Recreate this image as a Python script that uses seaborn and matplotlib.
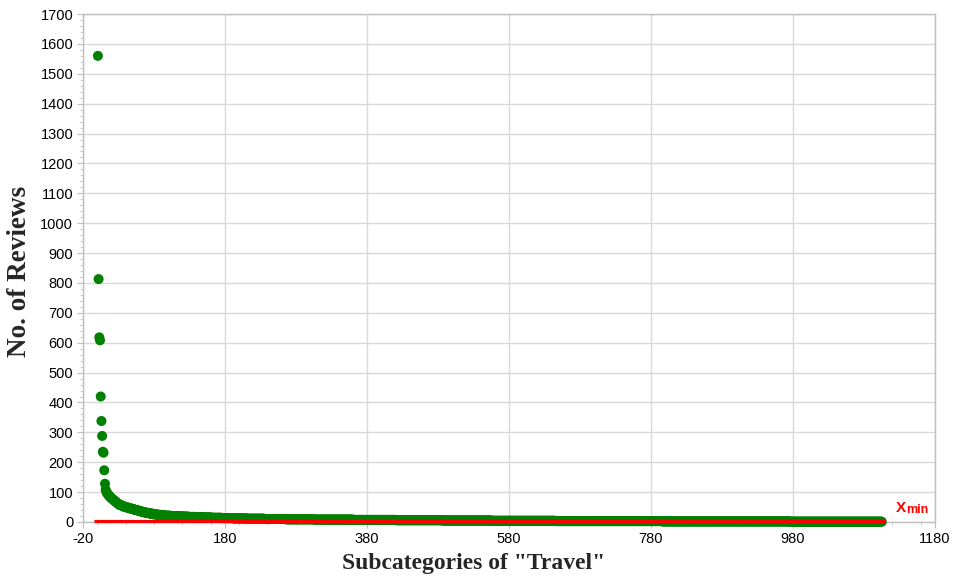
import numpy as np
import pandas as pd
import matplotlib
matplotlib.use("Agg")
import matplotlib.pyplot as plt
import seaborn as sns
from matplotlib.ticker import MultipleLocator

# Head of the ranked list (individual values)
head_values = [1560, 813, 618, 608, 420, 338, 288, 235, 232, 173, 128, 108,
               100, 97, 93, 90, 87, 85, 82, 80, 78, 76, 74, 72, 70, 68, 66, 64, 62, 60]
# Tail: review count levels and how many subcategories share each level
tail_levels = [58, 56, 54, 52, 50, 48, 46, 44, 42, 40, 38, 36, 34, 32, 30, 28, 26, 24, 22,
               21, 20, 19, 18, 17, 16, 15, 14, 13, 12, 11, 10, 9, 8, 7, 6, 5, 4, 3, 2, 1]
tail_counts = [2, 2, 2, 2, 3, 3, 3, 3, 3, 3, 3, 3, 3, 4, 4, 5, 5, 6, 7,
               7, 8, 8, 9, 10, 11, 12, 14, 15, 20, 25, 30, 40, 55, 60, 65, 70, 90, 150, 180, 130]

xmin_value = 3
xmin_line_x = [-5, 1110]

x_ticks = list(range(-20, 1181, 200))
y_ticks = list(range(0, 1701, 100))

reviews = np.concatenate([head_values, np.repeat(tail_levels, tail_counts)])
rank = np.arange(1, len(reviews) + 1)
df = pd.DataFrame({"rank": rank, "reviews": reviews})

sns.set_style("white")
plt.rcParams['font.family'] = ['Liberation Sans', 'DejaVu Sans']
plt.rcParams['axes.unicode_minus'] = False

fig = plt.figure(figsize=(9.58, 5.85), dpi=100)
ax = fig.add_axes([0.0866, 0.1077, 0.8894, 0.8683])

sns.scatterplot(data=df, x="rank", y="reviews", ax=ax, color="#008000",
                s=52, edgecolor="none", linewidth=0, zorder=3, clip_on=False)
ax.plot(xmin_line_x, [xmin_value, xmin_value], color="#ff0000", lw=2.3,
        solid_capstyle="butt", zorder=5, clip_on=False)
ax.text(1125, 47, "X", color="#ff0000", fontsize=11, fontweight="bold",
        va="center", ha="left")
ax.text(1139, 40, "min", color="#ff0000", fontsize=9, fontweight="bold",
        va="center", ha="left")

ax.set_xlim(-20, 1180)
ax.set_ylim(0, 1700)
ax.set_xticks(x_ticks)
ax.set_yticks(y_ticks)
ax.xaxis.set_minor_locator(MultipleLocator(40))
ax.yaxis.set_minor_locator(MultipleLocator(20))
ax.grid(True, which="major", color="#d9d9d9", lw=1.0)
ax.set_axisbelow(True)
for sp in ax.spines.values():
    sp.set_color("#bfbfbf")
    sp.set_linewidth(1.0)
ax.tick_params(axis="both", which="major", direction="out", length=4, color="#bfbfbf",
               labelsize=10.5, labelcolor="black", pad=3)
ax.tick_params(axis="both", which="minor", direction="out", length=2.5, color="#bfbfbf")
ax.tick_params(axis="x", which="both", bottom=True)
ax.tick_params(axis="y", which="both", left=True)

ax.set_xlabel('Subcategories of "Travel"', fontsize=17, fontweight="bold",
              family="Liberation Serif")
ax.set_ylabel("No. of Reviews", fontsize=19.5, fontweight="bold",
              family="Liberation Serif")
ax.xaxis.set_label_coords(0.459, -0.062)
ax.yaxis.set_label_coords(-0.060, 0.494)

fig.savefig("out.png", dpi=100)
